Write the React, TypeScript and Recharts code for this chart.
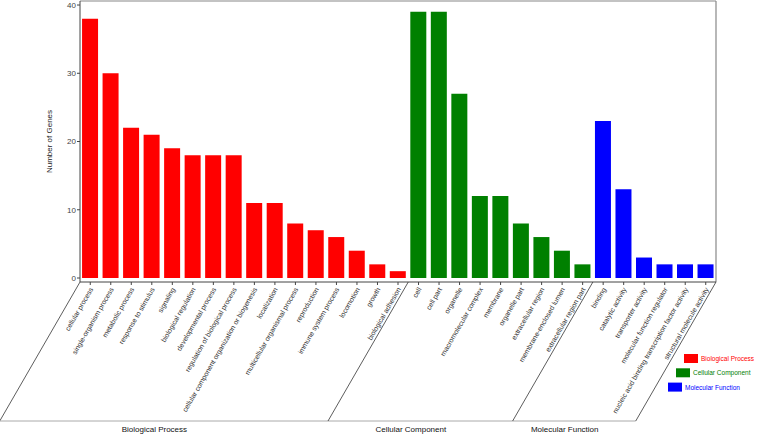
import React from 'react';
import { BarChart, Bar, XAxis, YAxis, Cell, ReferenceLine } from 'recharts';

const groupNames = ['Biological Process', 'Cellular Component', 'Molecular Function'];
const groupColors = ['#ff0000', '#008000', '#0000ff'];

const bpTerms = [
  'cellular process', 'single-organism process', 'metabolic process', 'response to stimulus',
  'signaling', 'biological regulation', 'developmental process', 'regulation of biological process',
  'cellular component organization or biogenesis', 'localization', 'multicellular organismal process',
  'reproduction', 'immune system process', 'locomotion', 'growth', 'biological adhesion',
];
const bpCounts = [38, 30, 22, 21, 19, 18, 18, 18, 11, 11, 8, 7, 6, 4, 2, 1];

const ccTerms = [
  'cell', 'cell part', 'organelle', 'macromolecular complex', 'membrane', 'organelle part',
  'extracellular region', 'membrane-enclosed lumen', 'extracellular region part',
];
const ccCounts = [39, 39, 27, 12, 12, 8, 6, 4, 2];

const mfTerms = [
  'binding', 'catalytic activity', 'transporter activity', 'molecular function regulator',
  'nucleic acid binding transcription factor activity', 'structural molecule activity',
];
const mfCounts = [23, 13, 3, 2, 2, 2];

const yTicks = [0, 10, 20, 30, 40];
const yDomain = [-0.586, 40.59];

const termLists = [bpTerms, ccTerms, mfTerms];
const countLists = [bpCounts, ccCounts, mfCounts];

const data = termLists.flatMap((terms, g) =>
  terms.map((term, i) => ({ term, count: countLists[g][i], group: g }))
);
const groupStarts = termLists.map((_, g) =>
  termLists.slice(0, g).reduce((s, t) => s + t.length, 0)
);
const lastTerm = data[data.length - 1].term;

const FONT = '"Liberation Sans", Arial, Helvetica, sans-serif';
const W = 758;
const H = 434;
const PLOT_LEFT = 80;
const PLOT_RIGHT = 716;
const DIAG_DROP = 139;
const DIAG_DX = DIAG_DROP / Math.tan((60 * Math.PI) / 180);

const XTick = (props: any) => {
  const { x, y, payload, index } = props;
  const axisY = y - 5;
  const half = payload && payload.offset ? payload.offset : (PLOT_RIGHT - PLOT_LEFT) / data.length / 2;
  const band = half * 2;
  const left = x - half;
  const yb = axisY + DIAG_DROP;
  const ty = axisY + 6;
  const elems: React.ReactNode[] = [];
  const g = groupStarts.indexOf(index);
  if (g >= 0) {
    elems.push(
      <line key="d" x1={left} y1={axisY} x2={left - DIAG_DX} y2={yb} stroke="#333" strokeWidth={0.8} />
    );
    const n = termLists[g].length;
    const bl = left - DIAG_DX;
    const br = left + n * band - DIAG_DX;
    elems.push(
      <text key="g" x={(bl + br) / 2 - 9.5} y={yb + 8} textAnchor="middle" dominantBaseline="central"
        fontSize={8} fontFamily={FONT} fill="#111">{groupNames[g]}</text>
    );
  }
  if (index === 0) {
    const bl = left - DIAG_DX;
    const br = left + data.length * band - DIAG_DX;
    elems.push(<line key="h" x1={bl} y1={yb} x2={br} y2={yb} stroke="#aaa" strokeWidth={1} />);
  }
  if (index === data.length - 1) {
    const right = x + half;
    elems.push(
      <line key="r" x1={right} y1={axisY} x2={right - DIAG_DX} y2={yb} stroke="#333" strokeWidth={0.8} />
    );
  }
  return (
    <g>
      {elems}
      <text x={x + 1} y={ty} transform={`rotate(-60, ${x + 1}, ${ty})`} textAnchor="end"
        dominantBaseline="central" fontSize={7} fontFamily={FONT} fill="#333">
        {payload.value}
      </text>
    </g>
  );
};

const YLabel = (props: any) => {
  const vb = props.viewBox || { x: 0, y: 1, width: 80, height: 281 };
  const cx = vb.x + vb.width - 31;
  const cy = vb.y + vb.height / 2;
  return (
    <text x={cx} y={cy} transform={`rotate(-90, ${cx}, ${cy})`} textAnchor="middle"
      dominantBaseline="central" fontSize={8} fontFamily={FONT} fill="#222">
      Number of Genes
    </text>
  );
};

const LegendOverlay = () => (
  <svg width={W} height={H} style={{ position: 'absolute', left: 0, top: 0, pointerEvents: 'none' }}>
    {groupNames.map((name, i) => {
      const rx = 684 - i * 8;
      const ry = 354 + i * 14.3;
      return (
        <g key={name}>
          <rect x={rx} y={ry} width={14} height={9} fill={groupColors[i]} />
          <text x={rx + 17} y={ry + 4.5} dominantBaseline="central" fontSize={6.5}
            fontFamily={FONT} fill={groupColors[i]}>{name}</text>
        </g>
      );
    })}
  </svg>
);

export default function App() {
  return (
    <div style={{ position: 'absolute', left: 0, top: 0, width: W, height: H, background: '#fff' }}>
      <BarChart width={W} height={H} data={data} margin={{ top: 1, right: W - PLOT_RIGHT, bottom: 0, left: 0 }}
        barCategoryGap="10%">
        <XAxis dataKey="term" interval={0} height={152} tick={<XTick />} tickSize={3} tickMargin={2}
          axisLine={{ stroke: '#444' }} tickLine={{ stroke: '#444' }} />
        <YAxis width={PLOT_LEFT} domain={yDomain} ticks={yTicks} allowDataOverflow
          tickSize={3} tickMargin={1} axisLine={{ stroke: '#444' }} tickLine={{ stroke: '#444' }}
          tick={{ fontSize: 8, fill: '#444', fontFamily: FONT }} label={<YLabel />} />
        <ReferenceLine y={yDomain[1]} stroke="#888" strokeWidth={1.2} ifOverflow="visible" />
        <ReferenceLine x={lastTerm} position="end" stroke="#888" strokeWidth={1.2} ifOverflow="visible" />
        <Bar dataKey="count" isAnimationActive={false}>
          {data.map((d, i) => (
            <Cell key={i} fill={groupColors[d.group]} />
          ))}
        </Bar>
      </BarChart>
      <LegendOverlay />
    </div>
  );
}
